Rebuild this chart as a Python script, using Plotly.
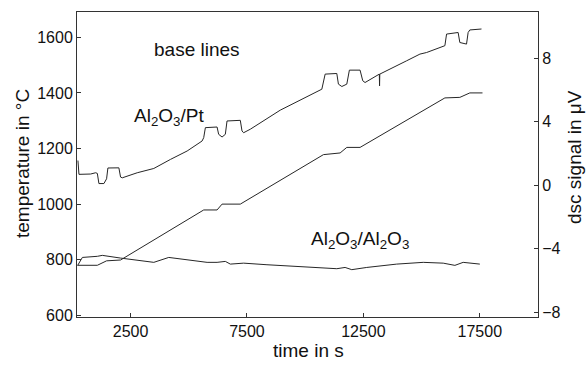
import plotly.graph_objects as go

# temperature programme (left axis, °C)
temp_t = [220, 1073, 1471, 2071, 5642, 6216, 6430, 7214, 10785, 11500, 11788, 12358, 16001, 16644, 17072, 17616]
temp_T = [780, 780, 796, 799, 979, 979, 1000, 1000, 1178, 1184, 1204, 1204, 1382, 1384, 1400, 1400]

# DSC base line Al2O3/Pt (right axis, µV)
pt_t = [241, 284, 786, 1000, 1073, 1141, 1356, 1471, 1527, 1999, 2071, 2144, 2787, 3499, 4214, 4930,
        5573, 5642, 5714, 6216, 6284, 6430, 6571, 6644, 7214, 7287, 7356, 7643, 8929, 10073, 10716,
        10858, 11359, 11428, 11574, 11788, 11899, 12358, 12473, 12572, 13073, 13185, 13195, 13205,
        14359, 14929, 15216, 16001, 16073, 16570, 16643, 16930, 16999, 17072, 17573]
pt_v = [1.55, 0.68, 0.70, 0.78, 0.74, 0.10, 0.10, 0.40, 1.08, 1.09, 0.51, 0.46, 0.78, 1.05, 1.62, 2.15,
        2.78, 2.99, 3.62, 3.66, 3.20, 3.03, 3.20, 4.04, 4.08, 3.41, 3.30, 3.52, 4.72, 5.56, 6.04,
        6.99, 7.03, 6.36, 6.21, 6.36, 7.24, 7.24, 6.57, 6.46, 6.88, 6.99, 6.25, 6.99,
        7.83, 8.25, 8.35, 8.78, 9.51, 9.61, 8.98, 8.88, 9.61, 9.77, 9.83]

# DSC base line Al2O3/Al2O3 (right axis, µV)
al_t = [230, 430, 1073, 1287, 2071, 2643, 3499, 4141, 4930, 5787, 6216, 6571, 6786, 7356, 8359, 9786,
        10785, 11359, 11714, 12002, 12645, 13931, 15071, 15929, 16430, 16786, 17501]
al_v = [-5.05, -4.55, -4.48, -4.42, -4.59, -4.69, -4.86, -4.55, -4.69, -4.86, -4.86, -4.80, -4.97, -4.91,
        -5.01, -5.11, -5.18, -5.26, -5.18, -5.32, -5.18, -4.97, -4.86, -4.91, -5.05, -4.86, -4.97]

x_ticks = [2500, 7500, 12500, 17500]
x_labels = ["2500", "7500", "12500", "17500"]
left_ticks = [600, 800, 1000, 1200, 1400, 1600]
right_ticks = [-8, -4, 0, 4, 8]

line_col = "#262626"
FONT = "Liberation Sans, Arial, sans-serif"

fig = go.Figure()
fig.add_trace(go.Scatter(x=temp_t, y=temp_T, mode="lines", line=dict(color=line_col, width=1), yaxis="y"))
fig.add_trace(go.Scatter(x=pt_t, y=pt_v, mode="lines", line=dict(color=line_col, width=1), yaxis="y2"))
fig.add_trace(go.Scatter(x=al_t, y=al_v, mode="lines", line=dict(color=line_col, width=1), yaxis="y2"))

axis_common = dict(showgrid=False, zeroline=False, showline=True, linecolor="#333", linewidth=1,
                   ticks="inside", ticklen=4, tickcolor="#333", automargin=False,
                   tickfont=dict(size=16, color="#111"))

L, R, T, B = 77, 538, 12, 317
W, H = 586, 365

fig.update_layout(
    width=W, height=H,
    margin=dict(l=L, r=W - R, t=T, b=H - B),
    paper_bgcolor="white", plot_bgcolor="white",
    showlegend=False,
    font=dict(family=FONT, color="#111"),
    xaxis=dict(range=[200, 20000], tickvals=x_ticks, ticktext=x_labels, mirror=True, **axis_common),
    yaxis=dict(range=[594, 1691], tickvals=left_ticks, **axis_common),
    yaxis2=dict(range=[-8.3, 10.9], tickvals=right_ticks, overlaying="y", side="right", **axis_common),
)

def px_ann(x, y, text, angle=0, size=19):
    fig.add_annotation(x=(x - L) / (R - L), y=1 - (y - T) / (B - T), xref="paper", yref="paper",
                       xanchor="center", yanchor="middle",
                       text=text, showarrow=False, textangle=angle,
                       font=dict(size=size, color="#111"))

px_ann(197, 49, "base lines")
px_ann(169, 117, "Al<sub>2</sub>O<sub>3</sub>/Pt")
px_ann(360, 240, "Al<sub>2</sub>O<sub>3</sub>/Al<sub>2</sub>O<sub>3</sub>")
px_ann(308, 350, "time in s")
px_ann(22, 164, "temperature in °C", angle=-90)
px_ann(574, 157, "dsc signal in μV", angle=-90)

fig.write_html("out.html", config={"displayModeBar": False},
               post_script="document.body.style.margin='0';document.body.style.overflow='hidden';")
